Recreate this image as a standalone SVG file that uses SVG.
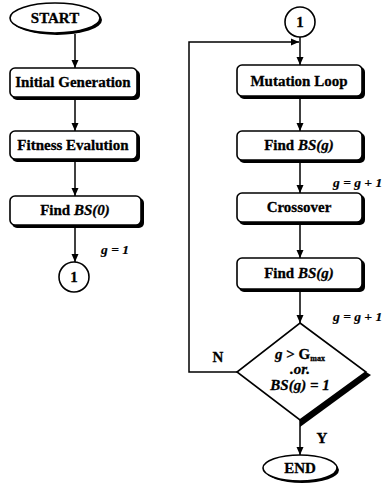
<svg xmlns="http://www.w3.org/2000/svg" width="382" height="488" viewBox="0 0 382 488" font-family="Liberation Serif, Times New Roman, serif">
<defs>
<marker id="ah" viewBox="0 0 8 14" refX="8" refY="7" markerWidth="8" markerHeight="14" markerUnits="userSpaceOnUse" orient="auto">
<path d="M0,3.5 L8,7 L0,10.5 Z" fill="#000"/>
</marker>
<style>
.box{fill:#fff;stroke:#000;stroke-width:1.6}
.sh{fill:#000}
.t{font-weight:bold;font-size:15px;text-anchor:middle;fill:#000;stroke:#000;stroke-width:0.3}
.i{font-style:italic}
.ln{fill:none;stroke:#000;stroke-width:1.5}
.lab{font-weight:bold;font-style:italic;font-size:13.5px;fill:#000;stroke:#000;stroke-width:0.2}
</style>
</defs>
<rect width="382" height="488" fill="#fff"/>
<g id="connectors">
<line class="ln" x1="75" y1="34" x2="75" y2="68" marker-end="url(#ah)"/>
<line class="ln" x1="75" y1="99" x2="75" y2="131" marker-end="url(#ah)"/>
<line class="ln" x1="75" y1="161" x2="75" y2="196" marker-end="url(#ah)"/>
<line class="ln" x1="75" y1="227" x2="75" y2="262" marker-end="url(#ah)"/>
<line class="ln" x1="300" y1="37" x2="300" y2="65" marker-end="url(#ah)"/>
<polyline class="ln" points="237,372 189,372 189,42 299,42" marker-end="url(#ah)"/>
<line class="ln" x1="300" y1="99" x2="300" y2="131" marker-end="url(#ah)"/>
<line class="ln" x1="300" y1="162" x2="300" y2="193" marker-end="url(#ah)"/>
<line class="ln" x1="300" y1="224" x2="300" y2="258" marker-end="url(#ah)"/>
<line class="ln" x1="300" y1="292" x2="300" y2="323" marker-end="url(#ah)"/>
<line class="ln" x1="300" y1="420" x2="300" y2="455" marker-end="url(#ah)"/>
<text class="lab" x="101" y="254" font-size="14">g = 1</text>
<text class="lab" x="333" y="187">g = g + 1</text>
<text class="lab" x="333" y="321">g = g + 1</text>
<text class="t" x="218" y="362">N</text>
<text class="t" x="322" y="443">Y</text>
</g>
<g id="start">
<ellipse cx="57" cy="20" rx="45" ry="15" class="sh"/>
<ellipse cx="55" cy="18" rx="45" ry="15" class="box"/>
<text class="t" x="55" y="23">START</text>
</g>
<g id="initial">
<rect x="12" y="70" width="128" height="30" rx="5" class="sh"/>
<rect x="10" y="68" width="127" height="29" rx="5" class="box"/>
<text class="t" x="73" y="87">Initial Generation</text>
</g>
<g id="fitness">
<rect x="12" y="133" width="128" height="29" rx="5" class="sh"/>
<rect x="10" y="131" width="127" height="28" rx="5" class="box"/>
<text class="t" x="73" y="150">Fitness Evalution</text>
</g>
<g id="find0">
<rect x="12" y="198" width="132" height="30" rx="5" class="sh"/>
<rect x="10" y="196" width="131" height="29" rx="5" class="box"/>
<text class="t" x="75" y="215">Find <tspan class="i">BS(0)</tspan></text>
</g>
<g id="conn1a">
<circle cx="74" cy="277" r="15" class="box"/>
<text class="t" x="74" y="282">1</text>
</g>
<g id="conn1b">
<circle cx="300" cy="22" r="15" class="box"/>
<text class="t" x="300" y="27">1</text>
</g>
<g id="mutation">
<rect x="239" y="67" width="126" height="32" rx="5" class="sh"/>
<rect x="237" y="65" width="125" height="31" rx="5" class="box"/>
<text class="t" x="299" y="86">Mutation Loop</text>
</g>
<g id="findg1">
<rect x="239" y="133" width="126" height="30" rx="5" class="sh"/>
<rect x="237" y="131" width="125" height="29" rx="5" class="box"/>
<text class="t" x="299" y="150">Find <tspan class="i">BS(g)</tspan></text>
</g>
<g id="crossover">
<rect x="239" y="195" width="126" height="30" rx="5" class="sh"/>
<rect x="237" y="193" width="125" height="29" rx="5" class="box"/>
<text class="t" x="299" y="212">Crossover</text>
</g>
<g id="findg2">
<rect x="239" y="260" width="126" height="32" rx="5" class="sh"/>
<rect x="237" y="258" width="125" height="31" rx="5" class="box"/>
<text class="t" x="299" y="278">Find <tspan class="i">BS(g)</tspan></text>
</g>
<g id="decision">
<polygon points="366,372 300,420 300,427 371,375" class="sh"/>
<polygon points="300,323 366,372 300,420 237,372" class="box"/>
<text class="t" x="300" y="359"><tspan class="i">g</tspan> &gt; G<tspan font-size="8" dy="2">max</tspan></text>
<text class="t i" x="300" y="374" font-size="14">.or.</text>
<text class="t i" x="300" y="390" font-size="14">BS(g) = 1</text>
</g>
<g id="end">
<ellipse cx="302" cy="470" rx="37" ry="13" class="sh"/>
<ellipse cx="300" cy="468" rx="37" ry="13" class="box"/>
<text class="t" x="300" y="473">END</text>
</g>
</svg>
